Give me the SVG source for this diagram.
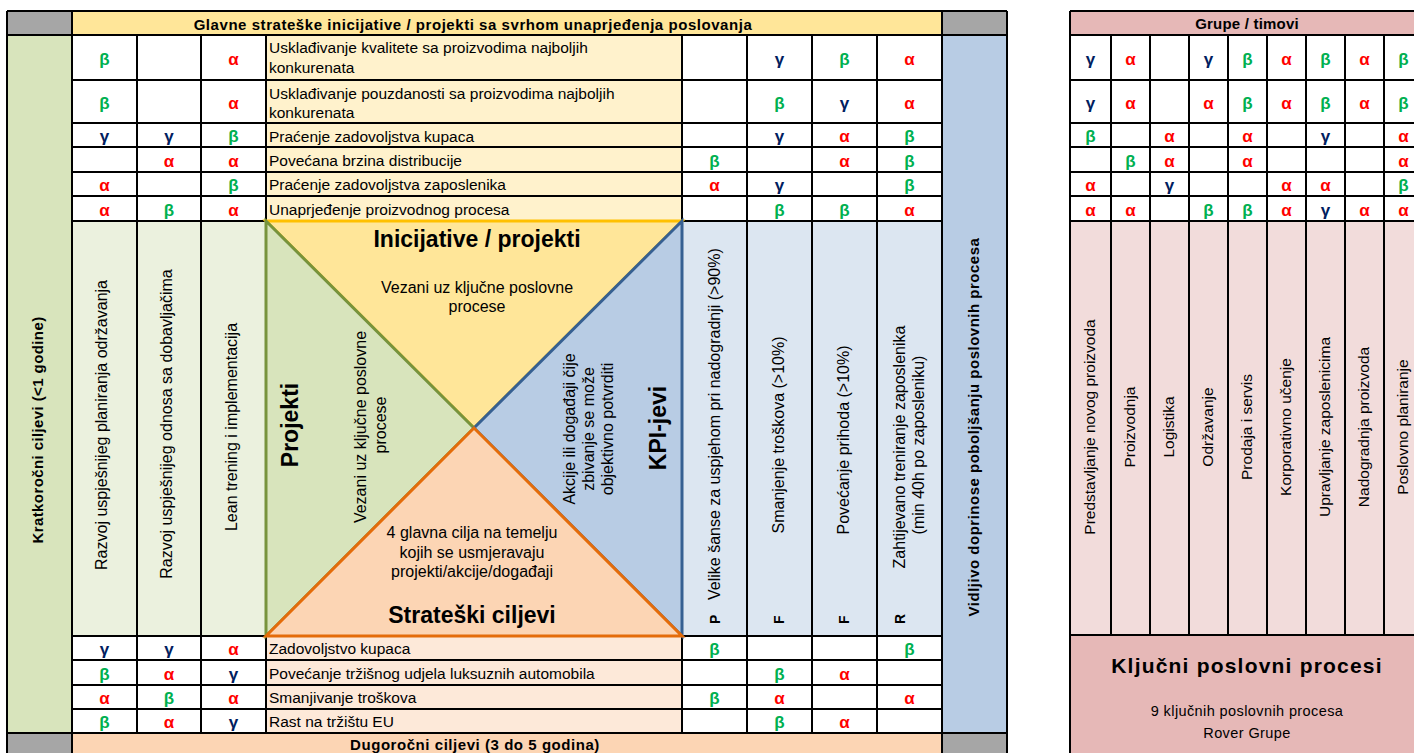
<svg xmlns="http://www.w3.org/2000/svg" width="1414" height="753" viewBox="0 0 1414 753">
<style>
text{font-family:"Liberation Sans",Arial,sans-serif;fill:#000}
.r{font-size:15.5px}
.v{font-size:16px}
.vr{font-size:15.5px;text-anchor:middle}
.m{text-anchor:middle}
.h{font-size:15px;font-weight:bold;letter-spacing:0.55px;text-anchor:middle}
.big{font-size:23px;font-weight:bold;text-anchor:middle}
.sb{font-size:14px;font-weight:bold}
.s{font-size:17px;font-weight:bold;text-anchor:middle}
.a{fill:#FF0000}.b{fill:#00B050}.g{fill:#002060}
.grid{stroke:#000;stroke-width:2;fill:none}
.tri{stroke-width:3}
</style>
<g id="main-table">
  <g id="fills">
    <rect x="7" y="11" width="65" height="24" fill="#A6A6A6"/>
    <rect x="72" y="11" width="870" height="24" fill="#FFE699"/>
    <rect x="942" y="11" width="65" height="24" fill="#A6A6A6"/>
    <rect x="7" y="733" width="65" height="30" fill="#A6A6A6"/>
    <rect x="72" y="733" width="870" height="30" fill="#FCD5B4"/>
    <rect x="942" y="733" width="65" height="30" fill="#A6A6A6"/>
    <rect x="7" y="35" width="65" height="698" fill="#D8E4BC"/>
    <rect x="942" y="35" width="65" height="698" fill="#B8CCE4"/>
    <rect x="72" y="35" width="194" height="186" fill="#FFFFFF"/>
    <rect x="682" y="35" width="260" height="186" fill="#FFFFFF"/>
    <rect x="72" y="636" width="194" height="97" fill="#FFFFFF"/>
    <rect x="682" y="636" width="260" height="97" fill="#FFFFFF"/>
    <rect x="266" y="35" width="416" height="186" fill="#FFF2CC"/>
    <rect x="266" y="636" width="416" height="97" fill="#FDE9D9"/>
    <rect x="72" y="221" width="194" height="415" fill="#EBF1DE"/>
    <rect x="682" y="221" width="260" height="415" fill="#DCE6F1"/>
  </g>
  <path class="grid" d="M7 11H1007M7 35H1007M72 80H942M72 123H942M72 147H942M72 172H942M72 196H942M72 221H942M72 636H942M72 660H942M72 685H942M72 709H942M7 733H1007M7 11V763M72 11V763M137 35V733M201 35V733M266 35V733M682 35V733M747 35V733M812 35V733M877 35V733M942 11V763M1007 11V763"/>
  <g id="diamond">
    <polygon class="tri" points="266,221 682,221 474,428" fill="#FFE699" stroke="#FFC000"/>
    <polygon class="tri" points="266,221 474,428 266,636" fill="#D8E4BC" stroke="#77933C"/>
    <polygon class="tri" points="682,221 682,636 474,428" fill="#B8CCE4" stroke="#366092"/>
    <polygon class="tri" points="266,636 474,428 682,636" fill="#FCD5B4" stroke="#E46C0A"/>
    <text class="big" x="477" y="247">Inicijative / projekti</text>
    <text class="v m" x="477" y="293">Vezani uz ključne poslovne</text>
    <text class="v m" x="477" y="312">procese</text>
    <text class="v m" x="472" y="538">4 glavna cilja na temelju</text>
    <text class="v m" x="472" y="557.5">kojih se usmjeravaju</text>
    <text class="v m" x="472" y="577">projekti/akcije/događaji</text>
    <text class="big" x="472" y="623">Strateški ciljevi</text>
    <text class="big" transform="translate(298,425) rotate(-90)">Projekti</text>
    <text class="v m" transform="translate(366,427) rotate(-90)">Vezani uz ključne poslovne</text>
    <text class="v m" transform="translate(385.5,425) rotate(-90)">procese</text>
    <text class="v m" transform="translate(575,429) rotate(-90)">Akcije ili događaji čije</text>
    <text class="v m" transform="translate(594,429) rotate(-90)">zbivanje se može</text>
    <text class="v m" transform="translate(613,429) rotate(-90)">objektivno potvrditi</text>
    <text class="big" transform="translate(666,428) rotate(-90)">KPI-jevi</text>
  </g>
  <g id="headers">
    <text class="h" x="473" y="30">Glavne strateške inicijative / projekti sa svrhom unaprjeđenja poslovanja</text>
    <text class="h" x="475" y="750">Dugoročni ciljevi (3 do 5 godina)</text>
    <text class="h" style="letter-spacing:0.4px" transform="translate(43,430) rotate(-90)">Kratkoročni ciljevi (&lt;1 godine)</text>
    <text class="h" style="letter-spacing:0.5px" transform="translate(979,427) rotate(-90)">Vidljivo doprinose poboljšanju poslovnih procesa</text>
  </g>
  <g id="vertical-labels">
    <text class="v m" transform="translate(107,425) rotate(-90)">Razvoj uspješnijeg planiranja održavanja</text>
    <text class="v m" transform="translate(171.5,424) rotate(-90)">Razvoj uspješnijeg odnosa sa dobavljačima</text>
    <text class="v m" transform="translate(236.5,427) rotate(-90)">Lean trening i implementacija</text>
    <text class="sb" transform="translate(720,624) rotate(-90)">P</text>
    <text class="v" transform="translate(720,600) rotate(-90)">Velike šanse za uspjehom pri nadogradnji (&gt;90%)</text>
    <text class="sb" transform="translate(784,624) rotate(-90)">F</text>
    <text class="v m" transform="translate(784,435) rotate(-90)">Smanjenje troškova (&gt;10%)</text>
    <text class="sb" transform="translate(848.5,624) rotate(-90)">F</text>
    <text class="v m" transform="translate(848.5,440) rotate(-90)">Povećanje prihoda (&gt;10%)</text>
    <text class="sb" transform="translate(905,624) rotate(-90)">R</text>
    <text class="v m" transform="translate(905,447) rotate(-90)">Zahtijevano treniranje zaposlenika</text>
    <text class="v m" transform="translate(924,445) rotate(-90)">(min 40h po zaposleniku)</text>
  </g>
  <g id="row-texts">
    <text class="r" x="269" y="53">Usklađivanje kvalitete sa proizvodima najboljih</text>
    <text class="r" x="269" y="73">konkurenata</text>
    <text class="r" x="269" y="98.5">Usklađivanje pouzdanosti sa proizvodima najboljih</text>
    <text class="r" x="269" y="118">konkurenata</text>
    <text class="r" x="269" y="141.5">Praćenje zadovoljstva kupaca</text>
    <text class="r" x="269" y="166">Povećana brzina distribucije</text>
    <text class="r" x="269" y="190">Praćenje zadovoljstva zaposlenika</text>
    <text class="r" x="269" y="214.5">Unaprjeđenje proizvodnog procesa</text>
    <text class="r" x="269" y="654">Zadovoljstvo kupaca</text>
    <text class="r" x="269" y="678.5">Povećanje tržišnog udjela luksuznih automobila</text>
    <text class="r" x="269" y="703">Smanjivanje troškova</text>
    <text class="r" x="269" y="727">Rast na tržištu EU</text>
  </g>
  <g id="symbols">
    <text class="s b" x="104.5" y="64.5">β</text><text class="s a" x="233.5" y="64.5">α</text><text class="s g" x="779.5" y="64.5">γ</text><text class="s b" x="844.5" y="64.5">β</text><text class="s a" x="909.5" y="64.5">α</text>
    <text class="s b" x="104.5" y="108.5">β</text><text class="s a" x="233.5" y="108.5">α</text><text class="s b" x="779.5" y="108.5">β</text><text class="s g" x="844.5" y="108.5">γ</text><text class="s a" x="909.5" y="108.5">α</text>
    <text class="s g" x="104.5" y="142">γ</text><text class="s g" x="169" y="142">γ</text><text class="s b" x="233.5" y="142">β</text><text class="s g" x="779.5" y="142">γ</text><text class="s a" x="844.5" y="142">α</text><text class="s b" x="909.5" y="142">β</text>
    <text class="s a" x="169" y="166.5">α</text><text class="s a" x="233.5" y="166.5">α</text><text class="s b" x="714.5" y="166.5">β</text><text class="s a" x="844.5" y="166.5">α</text><text class="s b" x="909.5" y="166.5">β</text>
    <text class="s a" x="104.5" y="191">α</text><text class="s b" x="233.5" y="191">β</text><text class="s a" x="714.5" y="191">α</text><text class="s g" x="779.5" y="191">γ</text><text class="s b" x="909.5" y="191">β</text>
    <text class="s a" x="104.5" y="215.5">α</text><text class="s b" x="169" y="215.5">β</text><text class="s a" x="233.5" y="215.5">α</text><text class="s b" x="779.5" y="215.5">β</text><text class="s b" x="844.5" y="215.5">β</text><text class="s a" x="909.5" y="215.5">α</text>
    <text class="s g" x="104.5" y="655">γ</text><text class="s g" x="169" y="655">γ</text><text class="s a" x="233.5" y="655">α</text><text class="s b" x="714.5" y="655">β</text><text class="s b" x="909.5" y="655">β</text>
    <text class="s b" x="104.5" y="679.5">β</text><text class="s a" x="169" y="679.5">α</text><text class="s g" x="233.5" y="679.5">γ</text><text class="s b" x="779.5" y="679.5">β</text><text class="s a" x="844.5" y="679.5">α</text>
    <text class="s a" x="104.5" y="704">α</text><text class="s b" x="169" y="704">β</text><text class="s a" x="233.5" y="704">α</text><text class="s b" x="714.5" y="704">β</text><text class="s a" x="779.5" y="704">α</text><text class="s a" x="909.5" y="704">α</text>
    <text class="s b" x="104.5" y="728">β</text><text class="s a" x="169" y="728">α</text><text class="s g" x="233.5" y="728">γ</text><text class="s b" x="779.5" y="728">β</text><text class="s a" x="844.5" y="728">α</text>
  </g>
</g>
<g id="process-table">
  <rect x="1070" y="11" width="360" height="24" fill="#E6B8B7"/>
  <rect x="1070" y="35" width="360" height="186" fill="#FFFFFF"/>
  <rect x="1070" y="221" width="360" height="414" fill="#F2DCDB"/>
  <rect x="1070" y="635" width="360" height="128" fill="#E6B8B7"/>
  <path class="grid" d="M1070 11V763M1070 11H1414M1070 35H1414M1070 80H1414M1070 123H1414M1070 147H1414M1070 172H1414M1070 196H1414M1070 221H1414M1070 635H1414M1111 35V635M1150 35V635M1189 35V635M1228 35V635M1267 35V635M1306 35V635M1345 35V635M1384 35V635"/>
  <text class="h" style="letter-spacing:0.2px" x="1247" y="29">Grupe / timovi</text>
  <text class="vr" transform="translate(1095,427) rotate(-90)">Predstavljanje novog proizvoda</text>
  <text class="vr" transform="translate(1135,427) rotate(-90)">Proizvodnja</text>
  <text class="vr" transform="translate(1174,427) rotate(-90)">Logistika</text>
  <text class="vr" transform="translate(1213,427) rotate(-90)">Održavanje</text>
  <text class="vr" transform="translate(1252,427) rotate(-90)">Prodaja i servis</text>
  <text class="vr" transform="translate(1291,427) rotate(-90)">Korporativno učenje</text>
  <text class="vr" transform="translate(1330,427) rotate(-90)">Upravljanje zaposlenicima</text>
  <text class="vr" transform="translate(1369,427) rotate(-90)">Nadogradnja proizvoda</text>
  <text class="vr" transform="translate(1408,427) rotate(-90)">Poslovno planiranje</text>
  <text x="1247" y="673" style="font-size:21px;font-weight:bold;letter-spacing:1.2px;text-anchor:middle">Ključni poslovni procesi</text>
  <text x="1247" y="716" style="font-size:14.5px;letter-spacing:0.4px;text-anchor:middle">9 ključnih poslovnih procesa</text>
  <text x="1247" y="738" style="font-size:14.5px;letter-spacing:0.4px;text-anchor:middle">Rover Grupe</text>
  <g id="process-symbols">
    <text class="s g" x="1090.5" y="64.5">γ</text><text class="s a" x="1130.5" y="64.5">α</text><text class="s g" x="1208.5" y="64.5">γ</text><text class="s b" x="1247.5" y="64.5">β</text><text class="s a" x="1286.5" y="64.5">α</text><text class="s b" x="1325.5" y="64.5">β</text><text class="s a" x="1364.5" y="64.5">α</text><text class="s b" x="1403.5" y="64.5">β</text>
    <text class="s g" x="1090.5" y="108.5">γ</text><text class="s a" x="1130.5" y="108.5">α</text><text class="s a" x="1208.5" y="108.5">α</text><text class="s b" x="1247.5" y="108.5">β</text><text class="s a" x="1286.5" y="108.5">α</text><text class="s b" x="1325.5" y="108.5">β</text><text class="s a" x="1364.5" y="108.5">α</text><text class="s b" x="1403.5" y="108.5">β</text>
    <text class="s b" x="1090.5" y="142">β</text><text class="s a" x="1169.5" y="142">α</text><text class="s a" x="1247.5" y="142">α</text><text class="s g" x="1325.5" y="142">γ</text><text class="s a" x="1403.5" y="142">α</text>
    <text class="s b" x="1130.5" y="166.5">β</text><text class="s a" x="1169.5" y="166.5">α</text><text class="s a" x="1247.5" y="166.5">α</text><text class="s a" x="1403.5" y="166.5">α</text>
    <text class="s a" x="1090.5" y="191">α</text><text class="s g" x="1169.5" y="191">γ</text><text class="s a" x="1286.5" y="191">α</text><text class="s a" x="1325.5" y="191">α</text><text class="s b" x="1403.5" y="191">β</text>
    <text class="s a" x="1090.5" y="215.5">α</text><text class="s a" x="1130.5" y="215.5">α</text><text class="s b" x="1208.5" y="215.5">β</text><text class="s b" x="1247.5" y="215.5">β</text><text class="s a" x="1286.5" y="215.5">α</text><text class="s g" x="1325.5" y="215.5">γ</text><text class="s a" x="1364.5" y="215.5">α</text><text class="s a" x="1403.5" y="215.5">α</text>
  </g>
</g>
<g id="connectors"/>
</svg>
